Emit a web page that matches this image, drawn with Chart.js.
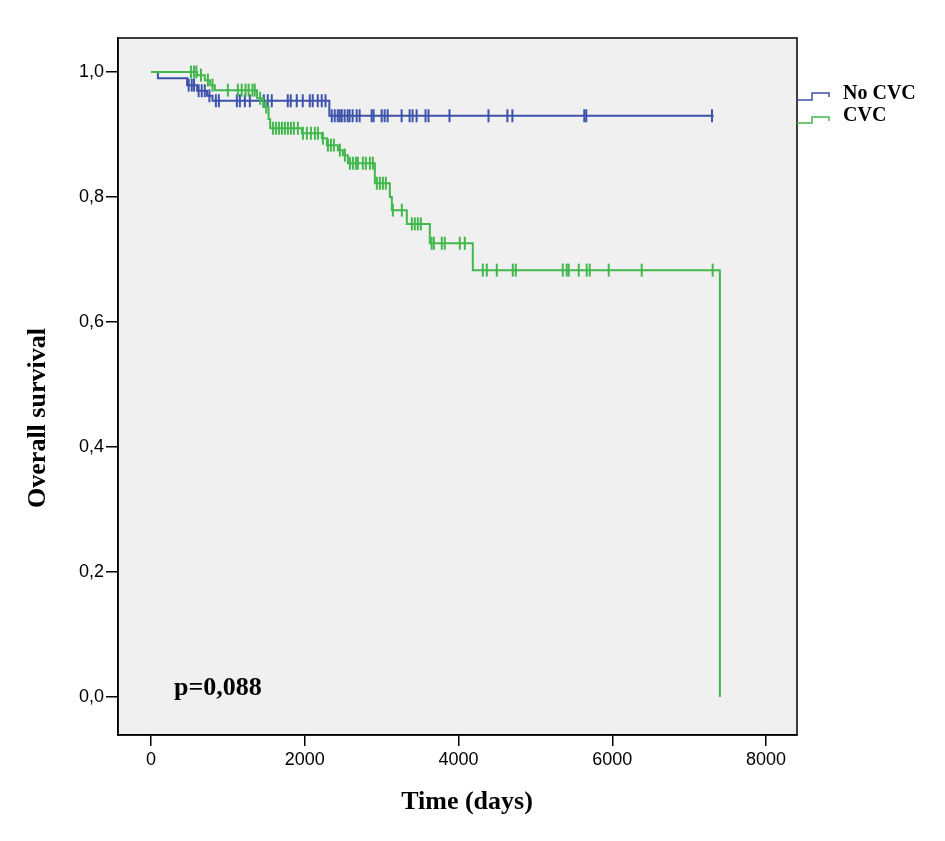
<!DOCTYPE html>
<html>
<head>
<meta charset="utf-8">
<script src="https://cdn.jsdelivr.net/npm/chart.js@4.4.1/dist/chart.umd.min.js"></script>
<style>
  html, body { margin: 0; padding: 0; background: #fff; }
</style>
</head>
<body>
<canvas id="km" width="945" height="841"></canvas>
<script>
// Kaplan-Meier steps (time in days, survival after the event)
const noCvcTimes = [0, 90, 470, 600, 730, 800, 2320, 7320];
const noCvcSurv  = [1.0, 0.990, 0.979, 0.970, 0.962, 0.954, 0.930, 0.930];
const noCvcCensored = [490, 530, 560, 620, 660, 700, 760, 844, 883, 1117, 1156, 1221, 1286, 1468, 1519, 1571,
  1779, 1818, 1896, 1974, 2065, 2104, 2169, 2221, 2270, 2351, 2390, 2429, 2455, 2481, 2519, 2558, 2584,
  2623, 2675, 2714, 2870, 2896, 3000, 3039, 3078, 3260, 3364, 3403, 3455, 3571, 3610, 3883, 4390, 4636,
  4701, 5636, 5662, 7297];

const cvcTimes = [0, 600, 700, 770, 830, 1380, 1460, 1530, 1550, 1963, 2223, 2288, 2431, 2496, 2561, 2912,
  3107, 3133, 3328, 3627, 4186, 7400];
const cvcSurv  = [1.0, 0.995, 0.987, 0.979, 0.971, 0.958, 0.944, 0.925, 0.910, 0.902, 0.894, 0.883, 0.875,
  0.867, 0.854, 0.822, 0.800, 0.779, 0.757, 0.726, 0.683, 0.0];
const cvcCensored = [520, 560, 590, 650, 740, 800, 1000, 1130, 1180, 1230, 1270, 1320, 1350, 1420, 1500, 1586,
  1625, 1664, 1703, 1742, 1781, 1820, 1859, 1911, 1976, 2028, 2080, 2132, 2171, 2236, 2301, 2340, 2379,
  2457, 2522, 2587, 2626, 2665, 2691, 2756, 2795, 2847, 2886, 2938, 2977, 3016, 3055, 3146, 3263, 3393,
  3432, 3471, 3510, 3650, 3680, 3783, 3822, 4017, 4082, 4316, 4368, 4498, 4706, 4745, 5356, 5408, 5434,
  5564, 5668, 5707, 5954, 6383, 7306];

const xTicks = [0, 2000, 4000, 6000, 8000];
const yTicks = [0, 0.2, 0.4, 0.6, 0.8, 1.0];
const groupLabels = ['No CVC', 'CVC'];
const pValueText = 'p=0,088';

const blue = '#3d52ab';
const green = '#42b84c';

function stepPoints(times, surv) {
  return times.map((t, i) => ({ x: t, y: surv[i] }));
}
// censor marks sit on the curve at that time
function censorPoints(times, surv, cens) {
  return cens.map(t => {
    let s = surv[0];
    for (let i = 0; i < times.length; i++) if (times[i] <= t) s = surv[i];
    return { x: t, y: s };
  });
}

const serif = '"Liberation Serif", "Times New Roman", serif';
const sans = 'Arial, "Liberation Sans", sans-serif';

const decor = {
  id: 'decor',
  beforeDraw(chart) {
    const { ctx, chartArea: a } = chart;
    ctx.save();
    ctx.fillStyle = '#f0f0f0';
    ctx.fillRect(a.left, a.top, a.right - a.left, a.bottom - a.top);
    ctx.restore();
  },
  afterDraw(chart) {
    const { ctx, chartArea: a } = chart;
    ctx.save();
    ctx.strokeStyle = '#000';
    ctx.lineWidth = 1.5;
    ctx.strokeRect(a.left, a.top, a.right - a.left, a.bottom - a.top);

    // legend with step-shaped keys
    const keys = [[blue, 100, 93, 97], [green, 123, 117, 121]];
    ctx.lineWidth = 1.5;
    keys.forEach(([c, y0, y1, y2]) => {
      ctx.strokeStyle = c;
      ctx.beginPath();
      ctx.moveTo(a.right, y0);
      ctx.lineTo(812, y0);
      ctx.lineTo(812, y1);
      ctx.lineTo(829, y1);
      ctx.lineTo(829, y2);
      ctx.stroke();
    });
    ctx.fillStyle = '#000';
    ctx.font = 'bold 20px ' + serif;
    ctx.textBaseline = 'middle';
    ctx.textAlign = 'left';
    ctx.fillText(groupLabels[0], 843, 94);
    ctx.fillText(groupLabels[1], 843, 116);

    // axis titles and p-value
    ctx.font = 'bold 26px ' + serif;
    ctx.textAlign = 'center';
    ctx.fillText('Time (days)', 467, 802);
    ctx.save();
    ctx.translate(38, 418);
    ctx.rotate(-Math.PI / 2);
    ctx.fillText('Overall survival', 0, 0);
    ctx.restore();
    ctx.textAlign = 'left';
    ctx.fillText(pValueText, 174, 688);
    ctx.restore();
  }
};

const ctx = document.getElementById('km').getContext('2d');
new Chart(ctx, {
  type: 'line',
  data: {
    datasets: [
      { label: groupLabels[0], data: stepPoints(noCvcTimes, noCvcSurv), stepped: true,
        borderColor: blue, borderWidth: 2, pointRadius: 0, fill: false, order: 3 },
      { type: 'scatter', label: groupLabels[0] + ' censored', data: censorPoints(noCvcTimes, noCvcSurv, noCvcCensored),
        pointStyle: 'line', rotation: 90, pointRadius: 6.5, borderColor: blue, borderWidth: 2, showLine: false, order: 2 },
      { label: groupLabels[1], data: stepPoints(cvcTimes, cvcSurv), stepped: true,
        borderColor: green, borderWidth: 2, pointRadius: 0, fill: false, order: 1 },
      { type: 'scatter', label: groupLabels[1] + ' censored', data: censorPoints(cvcTimes, cvcSurv, cvcCensored),
        pointStyle: 'line', rotation: 90, pointRadius: 6.5, borderColor: green, borderWidth: 2, showLine: false, order: 0 }
    ]
  },
  options: {
    responsive: false,
    animation: false,
    devicePixelRatio: 1,
    events: [],
    layout: { padding: { left: 0, top: 38, right: 148, bottom: 0 } },
    plugins: { legend: { display: false }, tooltip: { enabled: false } },
    scales: {
      x: {
        type: 'linear',
        min: -429,
        max: 8403,
        afterBuildTicks: s => { s.ticks = xTicks.map(v => ({ value: v })); },
        afterFit: s => { s.height = 106; },
        ticks: { color: '#000', font: { family: sans, size: 18 }, padding: 3, maxRotation: 0,
          callback: v => String(v) },
        grid: { drawOnChartArea: false, drawTicks: true, tickLength: 11, color: '#000', lineWidth: 1.5 },
        border: { display: true, color: '#000', width: 1.5 }
      },
      y: {
        type: 'linear',
        min: -0.0608,
        max: 1.0544,
        afterBuildTicks: s => { s.ticks = yTicks.map(v => ({ value: v })); },
        afterFit: s => { s.width = 118; },
        ticks: { color: '#000', font: { family: sans, size: 18 }, padding: 2,
          callback: v => v.toFixed(1).replace('.', ',') },
        grid: { drawOnChartArea: false, drawTicks: true, tickLength: 12, color: '#000', lineWidth: 1.5 },
        border: { display: true, color: '#000', width: 1.5 }
      }
    }
  },
  plugins: [decor]
});
</script>
</body>
</html>
